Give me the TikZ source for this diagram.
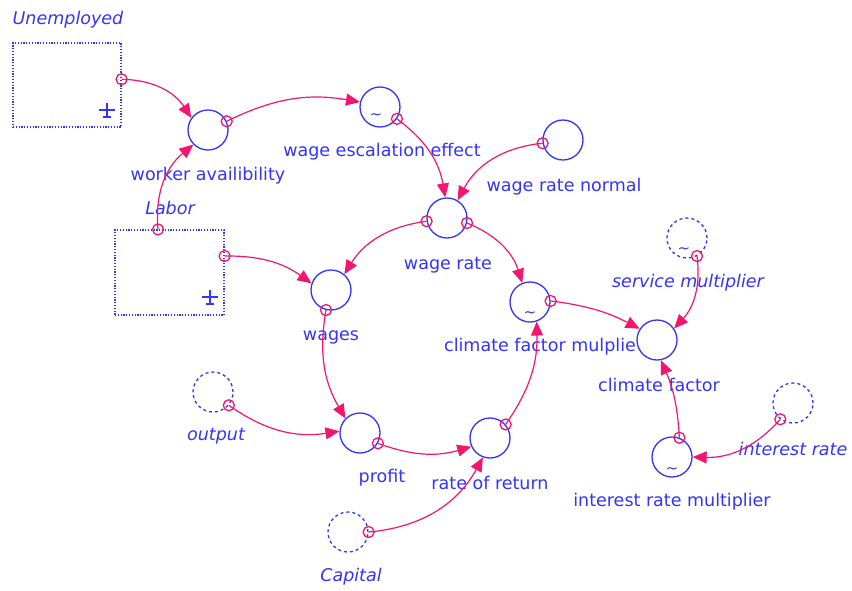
\documentclass[tikz,border=0pt]{standalone}
\usepackage{fontspec}
\setmainfont{DejaVu Sans}
\usetikzlibrary{arrows.meta}
\definecolor{vblue}{RGB}{51,51,255}
\definecolor{vpink}{RGB}{245,20,110}
\begin{document}
\begin{tikzpicture}[x=1pt,y=-1pt,
  aux/.style={circle,draw=vblue,line width=1.3pt,minimum size=40pt,inner sep=0pt},
  ghost/.style={aux,dash pattern=on 3pt off 3pt},
  stock/.style={draw=vblue,line width=1.2pt,dash pattern=on 1.2pt off 1.6pt,rectangle,inner sep=0pt},
  lbl/.style={text=vblue,font=\fontsize{17.5}{20}\selectfont,inner sep=0pt},
  ilbl/.style={lbl,font=\fontsize{17.5}{20}\selectfont\itshape},
  lnk/.style={draw=vpink,line width=1.2pt,-{Triangle[length=14pt,width=12pt]}},
  mk/.style={draw=vpink,line width=1.3pt},
  tl/.style={text=vblue,font=\fontsize{15}{15}\selectfont,inner sep=0pt}]
\useasboundingbox (0,0) rectangle (852,590);
% stocks
\node[stock,minimum width=108pt,minimum height=84pt] (un) at (67,85) {};
\node[stock,minimum width=109pt,minimum height=85pt] (lab) at (169.5,272.5) {};
\node[ilbl] (unl) at (68,20) {Unemployed};
\node[ilbl] (labl) at (170,208) {Labor};
\foreach \cx/\cy in {107/110,210/297}{
  \draw[vblue,line width=1.6pt] (\cx-8,\cy) -- (\cx+8,\cy) (\cx,\cy-7) -- (\cx,\cy+8) (\cx-4,\cy+7) -- (\cx+4,\cy+7);
}
% auxiliaries
\node[aux] (wa) at (208,130) {};
\node[aux] (wee) at (380,107) {};
\node[aux] (wrn) at (563,140) {};
\node[aux] (wr) at (447,218) {};
\node[aux] (wg) at (331,290) {};
\node[aux] (cfm) at (530,302) {};
\node[aux] (cf) at (657,340) {};
\node[ghost] (sm) at (687,238) {};
\node[ghost] (ir) at (793,403) {};
\node[aux] (irm) at (672,457) {};
\node[ghost] (out) at (213,392) {};
\node[aux] (pr) at (360,433) {};
\node[aux] (ror) at (490,438) {};
\node[ghost] (cap) at (348,532) {};
% tildes
\node[tl] (t1) at (376,117) {\char"7E};
\node[tl] (t2) at (530,315) {\char"7E};
\node[tl] (t3) at (684,251) {\char"7E};
\node[tl] (t4) at (672,470) {\char"7E};
% labels
\node[lbl] (wal) at (208,176) {worker availibility};
\node[lbl] (weel) at (382,152) {wage escalation effect};
\node[lbl] (wrnl) at (564,187) {wage rate normal};
\node[lbl] (wrl) at (448,265) {wage rate};
\node[lbl] (wgl) at (331,337) {wages};
\node[lbl] (cfml) at (540,347) {climate factor mulplie};
\node[lbl] (cfl) at (659,385) {climate factor};
\node[ilbl] (sml) at (688,283) {service multiplier};
\node[ilbl] (irl) at (793,449) {interest rate};
\node[lbl] (irml) at (672,502) {interest rate multiplier};
\node[ilbl] (outl) at (216,436) {output};
\node[lbl] (prl) at (382,478) {profit};
\node[lbl] (rorl) at (490,483) {rate of return};
\node[ilbl] (capl) at (351,577) {Capital};
% connectors
\coordinate (unO) at (un.6);
\coordinate (labT) at ([xshift=-11.5pt]lab.north);
\coordinate (labR) at ([yshift=16.5pt]lab.east);
\draw[lnk] (unO) to[bend left=28] (wa.144);
\draw[lnk] (labT) to[bend left=28] (wa.225);
\draw[lnk] (wa.25) to[bend left=18] (wee.166);
\draw[lnk] (wee.-35) to[bend left=22] (wr.95);
\draw[lnk] (wrn.189) to[bend right=28] (wr.59);
\draw[lnk] (wr.189) to[bend right=25] (wg.50);
\draw[lnk] (wr.-14) to[bend left=25] (cfm.112);
\draw[lnk] (labR) to[bend left=18] (wg.161);
\draw[lnk] (wg.256) to[bend right=20] (pr.135);
\draw[lnk] (out.-40) to[bend right=22] (pr.175);
\draw[lnk] (pr.-30) to[bend right=18] (ror.205);
\draw[lnk] (cap.0) to[bend right=28] (ror.250);
\draw[lnk] (ror.41) to[bend right=18] (cfm.289);
\draw[lnk] (cfm.3) to[bend left=10] (cf.147);
\draw[lnk] (sm.-61) to[bend left=25] (cf.34);
\draw[lnk] (irm.69) to[bend right=10] (cf.-79);
\draw[lnk] (ir.232) to[bend left=25] (irm.0);
\foreach \p in {unO,labT,labR,wa.25,wee.-35,wrn.189,wr.189,wr.-14,wg.256,out.-40,pr.-30,cap.0,ror.41,cfm.3,sm.-61,irm.69,ir.232}
  \draw[mk] (\p) circle (5.5pt);
\end{tikzpicture}
\end{document}
